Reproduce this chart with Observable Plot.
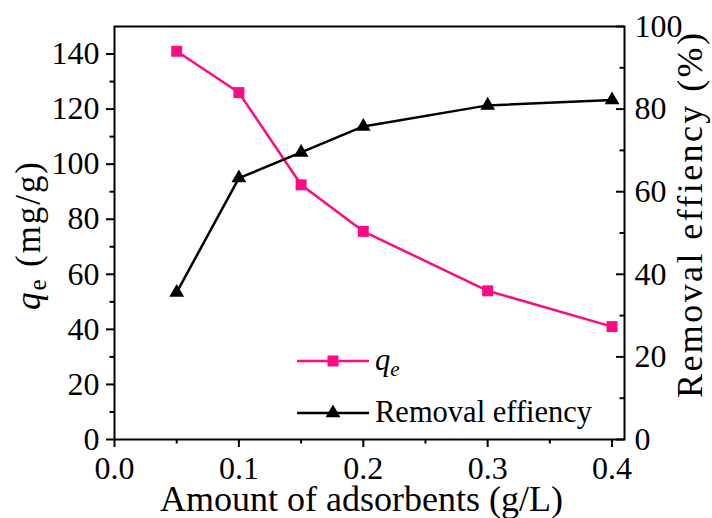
<!DOCTYPE html>
<html>
<head>
<meta charset="utf-8">
<script src="https://cdn.jsdelivr.net/npm/d3@7"></script>
<script src="https://cdn.jsdelivr.net/npm/@observablehq/plot@0.6"></script>
<style>
  html, body { margin: 0; padding: 0; background: #fff; }
  #chart svg, #chart svg text, #chart svg tspan { font-family: 'Liberation Serif', serif !important; }
</style>
</head>
<body>
<div id="chart"></div>
<script>
// ---- data ----
const dosage = [0.05, 0.1, 0.15, 0.2, 0.3, 0.4];           // g/L
const qe = [141, 126, 92.5, 75.6, 54, 41];                  // mg/g
const removal = [35.6, 63.3, 69.5, 75.8, 80.9, 82.2];       // %
const xTicks = [0.0, 0.1, 0.2, 0.3, 0.4];
const xMinor = [0.05, 0.15, 0.25, 0.35];
const yLeftTicks = [0, 20, 40, 60, 80, 100, 120, 140];
const yLeftMinor = [10, 30, 50, 70, 90, 110, 130];
const yRightTicks = [0, 20, 40, 60, 80, 100];
const yRightMinor = [10, 30, 50, 70, 90];
const seriesNames = ["q_e", "Removal effiency"];
const colors = ["#ff0a84", "#000000"];

// right axis (0-100) mapped onto left scale (0-150)
const kR = 150 / 100;
const qeData = dosage.map((x, i) => ({x, y: qe[i]}));
const remData = dosage.map((x, i) => ({x, y: removal[i] * kR}));

const W = 712, H = 518;
const mL = 114, mR = 88, mT = 26, mB = 79;

const plot = Plot.plot({
  width: W, height: H,
  marginLeft: mL, marginRight: mR, marginTop: mT, marginBottom: mB,
  style: {fontFamily: "'Liberation Serif', serif", fontSize: "32px"},
  x: {domain: [0, 0.41], label: null},
  y: {domain: [0, 150], label: null},
  marks: [
    Plot.frame({stroke: "#000", strokeWidth: 2}),
    // bottom axis
    Plot.axisX({ticks: xTicks, tickFormat: d3.format(".1f"), tickSize: 8, tickPadding: 9, strokeWidth: 2, fontSize: 32, label: null}),
    Plot.axisX({ticks: xMinor, tickSize: 4.5, text: null, strokeWidth: 2, label: null}),
    // left axis
    Plot.axisY({ticks: yLeftTicks, tickSize: 8, tickPadding: 7, strokeWidth: 2, fontSize: 32, label: null}),
    Plot.axisY({ticks: yLeftMinor, tickSize: 4.5, text: null, strokeWidth: 2, label: null}),
    // right axis: labels
    Plot.axisY({anchor: "right", ticks: yRightTicks.map(d => d * kR), tickFormat: d => Math.round(d / kR), tickSize: 0, tickPadding: 10, fontSize: 32, label: null}),
    // right axis: inward ticks
    Plot.tickY(yRightTicks.map(d => d * kR), {y: d => d, stroke: "#000", strokeWidth: 2, insetLeft: W - mL - mR - 8}),
    Plot.tickY(yRightMinor.map(d => d * kR), {y: d => d, stroke: "#000", strokeWidth: 2, insetLeft: W - mL - mR - 4.5}),
    // series
    Plot.line(qeData, {x: "x", y: "y", stroke: colors[0], strokeWidth: 2.5}),
    Plot.dot(qeData, {x: "x", y: "y", symbol: "square", r: 6.2, fill: colors[0], stroke: null}),
    Plot.line(remData, {x: "x", y: "y", stroke: colors[1], strokeWidth: 2.5}),
    Plot.dot(remData, {x: "x", y: "y", symbol: "triangle", r: 5.5, fill: colors[1], stroke: null})
  ]
});
document.getElementById("chart").appendChild(plot);

// ---- axis titles & legend as SVG text ----
const svg = d3.select(plot);
// bottom title
svg.append("text")
  .attr("x", (163 + 560) / 2).attr("y", 511)
  .attr("text-anchor", "middle").attr("font-size", 36).attr("fill", "#000")
  .text("Amount of adsorbents (g/L)");
// left title
const lt = svg.append("text")
  .attr("transform", "translate(40,236) rotate(-90)")
  .attr("text-anchor", "middle").attr("font-size", 35).attr("fill", "#000")
  .attr("textLength", 148).attr("lengthAdjust", "spacing");
lt.append("tspan").attr("font-style", "italic").text("q");
lt.append("tspan").attr("font-size", 25).attr("dy", 6).text("e");
lt.append("tspan").attr("dy", -6).text(" (mg/g)");
// right title
svg.append("text")
  .attr("transform", "translate(702,215.5) rotate(-90)")
  .attr("text-anchor", "middle").attr("font-size", 36).attr("fill", "#000")
  .attr("textLength", 365).attr("lengthAdjust", "spacing")
  .text("Removal effiency (%)");

// legend
const leg = svg.append("g");
const rows = [
  {y: 361, color: colors[0], sym: d3.symbolSquare, size: Math.PI * 6.2 * 6.2, name: seriesNames[0]},
  {y: 413, color: colors[1], sym: d3.symbolTriangle, size: Math.PI * 5.5 * 5.5, name: seriesNames[1]}
];
rows.forEach((r, i) => {
  leg.append("line").attr("x1", 297).attr("x2", 369).attr("y1", r.y).attr("y2", r.y)
    .attr("stroke", r.color).attr("stroke-width", 2.5);
  leg.append("path").attr("d", d3.symbol(r.sym, r.size)()).attr("transform", `translate(333,${r.y})`)
    .attr("fill", r.color);
  const t = leg.append("text").attr("x", 375).attr("y", r.y + 9).attr("text-anchor", "start")
    .attr("font-size", 30.5).attr("fill", "#000");
  if (i === 0) {
    t.append("tspan").attr("font-style", "italic").text("q");
    t.append("tspan").attr("font-style", "italic").attr("font-size", 21).attr("dy", 6).text("e");
  } else {
    t.text(r.name);
  }
});
</script>
</body>
</html>
